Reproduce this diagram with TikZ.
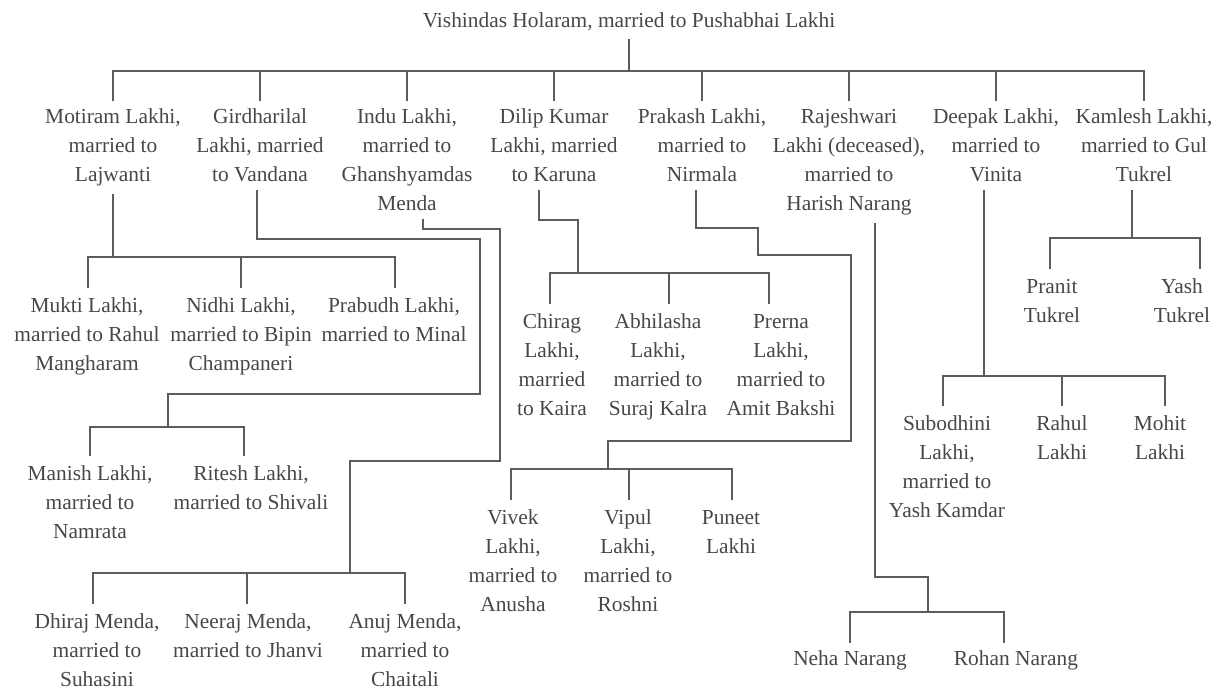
\documentclass[tikz,border=0pt]{standalone}
\usepackage{fontspec}
\setmainfont{Liberation Serif}
\definecolor{ink}{HTML}{474747}
\definecolor{rulegray}{HTML}{5C5C5C}
\begin{document}
\begin{tikzpicture}[x=1pt,y=-1pt,
  person/.style={align=center, inner sep=0pt, outer sep=8pt, anchor=north,
    text=ink, font=\fontsize{21.4}{29}\selectfont},
  kid/.style={person, outer sep=10pt},
  link/.style={draw=rulegray, line width=2.2pt}]
\useasboundingbox (0,0) rectangle (1224,690);

% ---------- first generation ----------
\node[person, anchor=base] (root) at (629,28) {Vishindas Holaram, married to Pushabhai Lakhi};

% ---------- second generation ----------
\node[person] (motiram)    at (113,101)  {Motiram Lakhi,\\married to\\Lajwanti};
\node[person] (girdhari)   at (260,101)  {Girdharilal\\Lakhi, married\\to Vandana};
\node[person] (indu)       at (407,101)  {Indu Lakhi,\\married to\\Ghanshyamdas\\Menda};
\node[person] (dilip)      at (554,101)  {Dilip Kumar\\Lakhi, married\\to Karuna};
\node[person] (prakash)    at (702,101)  {Prakash Lakhi,\\married to\\Nirmala};
\node[person] (rajeshwari) at (849,101)  {Rajeshwari\\Lakhi (deceased),\\married to\\Harish Narang};
\node[person] (deepak)     at (996,101)  {Deepak Lakhi,\\married to\\Vinita};
\node[person] (kamlesh)    at (1144,101) {Kamlesh Lakhi,\\married to Gul\\Tukrel};

% ---------- third generation ----------
\node[kid] (mukti)   at (87,288)  {Mukti Lakhi,\\married to Rahul\\Mangharam};
\node[kid] (nidhi)   at (241,288) {Nidhi Lakhi,\\married to Bipin\\Champaneri};
\node[kid] (prabudh) at (394,288) {Prabudh Lakhi,\\married to Minal};

\node[kid] (manish) at (90,456)  {Manish Lakhi,\\married to\\Namrata};
\node[kid] (ritesh) at (251,456) {Ritesh Lakhi,\\married to Shivali};

\node[kid] (dhiraj) at (97,604)  {Dhiraj Menda,\\married to\\Suhasini};
\node[kid] (neeraj) at (248,604) {Neeraj Menda,\\married to Jhanvi};
\node[kid] (anuj)   at (405,604) {Anuj Menda,\\married to\\Chaitali};

\node[kid] (chirag)    at (552,304) {Chirag\\Lakhi,\\married\\to Kaira};
\node[kid] (abhilasha) at (658,304) {Abhilasha\\Lakhi,\\married to\\Suraj Kalra};
\node[kid] (prerna)    at (781,304) {Prerna\\Lakhi,\\married to\\Amit Bakshi};

\node[kid] (vivek)  at (513,500) {Vivek\\Lakhi,\\married to\\Anusha};
\node[kid] (vipul)  at (628,500) {Vipul\\Lakhi,\\married to\\Roshni};
\node[kid] (puneet) at (731,500) {Puneet\\Lakhi};

\node[person] (neha)  at (850,643)  {Neha Narang};
\node[person] (rohan) at (1016,643) {Rohan Narang};

\node[kid] (subodhini) at (947,406)  {Subodhini\\Lakhi,\\married to\\Yash Kamdar};
\node[kid] (rahul)     at (1062,406) {Rahul\\Lakhi};
\node[kid] (mohit)     at (1160,406) {Mohit\\Lakhi};

\node[kid] (pranit) at (1052,269) {Pranit\\Tukrel};
\node[kid] (yash)   at (1182,269) {Yash\\Tukrel};

% ---------- bus points ----------
\coordinate (bus0) at (629,71);
\coordinate (busA) at (113,257);
\coordinate (busB) at (168,427);
\coordinate (busC) at (350,573);
\coordinate (busD) at (578,273);
\coordinate (busE) at (608,469);
\coordinate (busF) at (928,612);
\coordinate (busG) at (984,376);
\coordinate (busH) at (1132,238);

% ---------- connectors: root to children ----------
\draw[link] (root.south) -- (bus0);
\draw[link] (motiram.north) |- (bus0) -| (kamlesh.north);
\foreach \n in {girdhari,indu,dilip,prakash,rajeshwari,deepak}
  \draw[link] (\n.north) -- (\n.north |- bus0);

% Motiram
\draw[link] (motiram.south) -- (busA);
\draw[link] ([xshift=1pt]mukti.north) |- (busA) -| ([xshift=1pt]prabudh.north);
\draw[link] (nidhi.north) -- (nidhi.north |- busA);

% Girdharilal
\draw[link] ([xshift=-3pt]girdhari.south) |- (480,239) |- (168,394) -- (busB);
\draw[link] (manish.north) |- (busB) -| ([xshift=-7pt]ritesh.north);

% Indu
\draw[link] ([xshift=16pt]indu.south) |- (500,229) |- (350,461) -- (busC);
\draw[link] ([xshift=-4pt]dhiraj.north) |- (busC) -| (anuj.north);
\draw[link] ([xshift=-1pt]neeraj.north) -- ([xshift=-1pt]neeraj.north |- busC);

% Dilip
\draw[link] ([xshift=-15pt]dilip.south) |- (578,220) -- (busD);
\draw[link] ([xshift=-2pt]chirag.north) |- (busD) -| ([xshift=-12pt]prerna.north);
\draw[link] ([xshift=11pt]abhilasha.north) -- ([xshift=11pt]abhilasha.north |- busD);

% Prakash
\draw[link] ([xshift=-6pt]prakash.south) |- (758,228) |- (851,255) |- (608,441) -- (busE);
\draw[link] ([xshift=-2pt]vivek.north) |- (busE) -| ([xshift=1pt]puneet.north);
\draw[link] ([xshift=1pt]vipul.north) -- ([xshift=1pt]vipul.north |- busE);

% Rajeshwari
\draw[link] ([xshift=26pt]rajeshwari.south) |- (928,577) -- (busF);
\draw[link] (neha.north) |- (busF) -| ([xshift=-12pt]rohan.north);

% Deepak
\draw[link] ([xshift=-12pt]deepak.south) -- (busG);
\draw[link] ([xshift=-4pt]subodhini.north) |- (busG) -| ([xshift=5pt]mohit.north);
\draw[link] (rahul.north) -- (rahul.north |- busG);

% Kamlesh
\draw[link] ([xshift=-12pt]kamlesh.south) -- (busH);
\draw[link] ([xshift=-2pt]pranit.north) |- (busH) -| ([xshift=18pt]yash.north);
\end{tikzpicture}
\end{document}
